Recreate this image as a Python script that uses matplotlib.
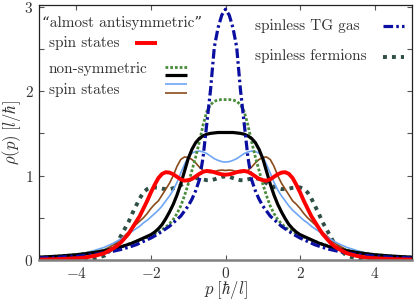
import matplotlib
matplotlib.use('Agg')
import matplotlib.pyplot as plt
import numpy as np
from matplotlib.ticker import MultipleLocator, FixedLocator, FuncFormatter

# momentum grid (p >= 0); curves are symmetric in p
p_half = [0.0, 0.1, 0.2, 0.3, 0.4, 0.5, 0.6, 0.7, 0.8, 0.9,
          1.0, 1.1, 1.2, 1.3, 1.4, 1.5, 1.6, 1.7, 1.8, 1.9,
          2.0, 2.1, 2.2, 2.3, 2.4, 2.5, 2.6, 2.7, 2.8, 2.9,
          3.0, 3.25, 3.5, 3.75, 4.0, 4.5, 5.0]

tg_gas = [2.97, 2.90, 2.75, 2.52, 2.02, 1.62, 1.22, 0.95, 0.82, 0.72,
          0.64, 0.58, 0.52, 0.48, 0.44, 0.40, 0.37, 0.34, 0.31, 0.285,
          0.26, 0.24, 0.22, 0.20, 0.18, 0.165, 0.15, 0.138, 0.125, 0.115,
          0.105, 0.085, 0.068, 0.055, 0.045, 0.033, 0.025]

fermions = [0.99, 0.985, 0.97, 0.955, 0.945, 0.945, 0.955, 0.965, 0.97, 0.96,
            0.94, 0.91, 0.885, 0.865, 0.85, 0.84, 0.84, 0.845, 0.855, 0.86,
            0.86, 0.84, 0.80, 0.73, 0.64, 0.55, 0.45, 0.37, 0.29, 0.21,
            0.15, 0.05, 0.02, 0.015, 0.012, 0.01, 0.008]

nonsym_green = [1.90, 1.90, 1.895, 1.88, 1.84, 1.76, 1.60, 1.40, 1.22, 1.06,
                0.90, 0.76, 0.64, 0.55, 0.48, 0.43, 0.39, 0.36, 0.335, 0.31,
                0.29, 0.27, 0.25, 0.235, 0.22, 0.205, 0.19, 0.175, 0.16, 0.15,
                0.14, 0.115, 0.095, 0.078, 0.064, 0.046, 0.034]

nonsym_black = [1.51, 1.51, 1.51, 1.505, 1.50, 1.49, 1.47, 1.44, 1.39, 1.31,
                1.20, 1.05, 0.90, 0.77, 0.66, 0.57, 0.49, 0.42, 0.37, 0.33,
                0.30, 0.28, 0.26, 0.24, 0.22, 0.20, 0.185, 0.17, 0.155, 0.145,
                0.135, 0.11, 0.09, 0.075, 0.062, 0.045, 0.033]

nonsym_light = [1.16, 1.165, 1.18, 1.20, 1.23, 1.26, 1.28, 1.29, 1.285, 1.265,
                1.22, 1.13, 1.03, 0.92, 0.83, 0.76, 0.70, 0.64, 0.59, 0.55,
                0.51, 0.47, 0.44, 0.40, 0.37, 0.34, 0.31, 0.28, 0.25, 0.225,
                0.20, 0.15, 0.115, 0.085, 0.065, 0.04, 0.025]

nonsym_brown = [1.06, 1.065, 1.06, 1.045, 1.035, 1.04, 1.06, 1.10, 1.15, 1.19,
                1.215, 1.22, 1.19, 1.11, 1.00, 0.91, 0.84, 0.77, 0.70, 0.66,
                0.61, 0.55, 0.50, 0.46, 0.42, 0.37, 0.33, 0.29, 0.25, 0.21,
                0.18, 0.12, 0.085, 0.06, 0.045, 0.025, 0.015]

antisym_red = [1.01, 1.015, 1.025, 1.04, 1.05, 1.055, 1.045, 1.02, 0.99, 0.96,
               0.945, 0.94, 0.955, 0.985, 1.015, 1.035, 1.04, 1.02, 0.97, 0.89,
               0.80, 0.70, 0.61, 0.52, 0.45, 0.38, 0.31, 0.26, 0.21, 0.17,
               0.14, 0.08, 0.05, 0.03, 0.02, 0.01, 0.005]


def full(vals):
    v = np.asarray(vals)
    return np.concatenate([v[:0:-1], v])


p = np.concatenate([-np.asarray(p_half)[:0:-1], np.asarray(p_half)])

plt.rcParams['font.family'] = ['cmr10', 'DejaVu Serif']
plt.rcParams['mathtext.fontset'] = 'cm'
plt.rcParams['axes.unicode_minus'] = False

txt_col = '#333333'
c_tg = '#0b0fa0'
c_ferm = '#2e4e46'
c_green = '#4a8c3c'
c_light = '#6ea6f5'
c_brown = '#8b4a1a'

fig = plt.figure(figsize=(4.15, 3.02), dpi=100)
ax = fig.add_axes([39 / 415, 1 - 260 / 302, 373 / 415, 255 / 302])

ax.plot(p, full(fermions), color=c_ferm, lw=2.8, dashes=(1, 1.3))
ax.plot(p, full(nonsym_brown), color=c_brown, lw=1.2)
ax.plot(p, full(nonsym_light), color=c_light, lw=1.2)
ax.plot(p, full(nonsym_green), color=c_green, lw=2.0, dashes=(1, 0.7))
ax.plot(p, full(nonsym_black), color='black', lw=2.3)
ax.plot(p, full(tg_gas), color=c_tg, lw=2.3, dashes=(3, 1, 0.8, 1))
ax.plot(p, full(antisym_red), color='red', lw=2.8)

ax.set_xlim(-5, 5)
ax.set_ylim(0, 3.02)

ax.xaxis.set_major_locator(FixedLocator([-4, -2, 0, 2, 4]))
ax.yaxis.set_major_locator(MultipleLocator(0.5))
ax.xaxis.set_major_formatter(FuncFormatter(lambda v, _: '$%d$' % v))
ax.yaxis.set_major_formatter(FuncFormatter(lambda v, _: '$%d$' % v if abs(v - round(v)) < 1e-6 else ''))
ax.tick_params(direction='in', top=True, right=True, length=3.5, width=0.8,
               labelsize=11, labelcolor=txt_col, color='#555555', pad=4)

for s in ['left', 'right', 'top']:
    ax.spines[s].set_color('#222222')
    ax.spines[s].set_linewidth(0.9)
ax.spines['bottom'].set_color('#808080')
ax.spines['bottom'].set_linewidth(1.8)

ax.set_xlabel(r'$p\;[\hbar/l]$', fontsize=12, color=txt_col, labelpad=-1)
ax.set_ylabel(r'$\rho(p)\;[l/\hbar]$', fontsize=12, color=txt_col, labelpad=1)

# hand-made legends
def fx(x):
    return (x - 39) / 373


def fy(y):
    return (260 - y) / 255


tkw = dict(transform=ax.transAxes, fontsize=11, color=txt_col, va='baseline', ha='left')
ax.text(fx(42), fy(27), '\u201calmost antisymmetric\u201d', **tkw)
ax.text(fx(49), fy(47), 'spin states', **tkw)
ax.text(fx(49), fy(73), 'non-symmetric', **tkw)
ax.text(fx(49), fy(94), 'spin states', **tkw)
ax.text(fx(255), fy(30), 'spinless TG gas', **tkw)
ax.text(fx(255), fy(60), 'spinless fermions', **tkw)

lkw = dict(transform=ax.transAxes, solid_capstyle='butt')
ax.plot([fx(135), fx(157)], [fy(43)] * 2, color='red', lw=2.8, **lkw)
ax.plot([fx(165), fx(187)], [fy(67)] * 2, color=c_green, lw=2.0, dashes=(1, 0.7), **lkw)
ax.plot([fx(165), fx(187)], [fy(75)] * 2, color='black', lw=2.3, **lkw)
ax.plot([fx(165), fx(187)], [fy(84)] * 2, color=c_light, lw=1.2, **lkw)
ax.plot([fx(165), fx(187)], [fy(93)] * 2, color=c_brown, lw=1.2, **lkw)
ax.plot([fx(383), fx(404)], [fy(26)] * 2, color=c_tg, lw=2.3, dashes=(3, 1, 0.8, 1), **lkw)
ax.plot([fx(383), fx(404)], [fy(57)] * 2, color=c_ferm, lw=2.8, dashes=(1, 1.3), **lkw)

fig.savefig('out.png', dpi=100)
